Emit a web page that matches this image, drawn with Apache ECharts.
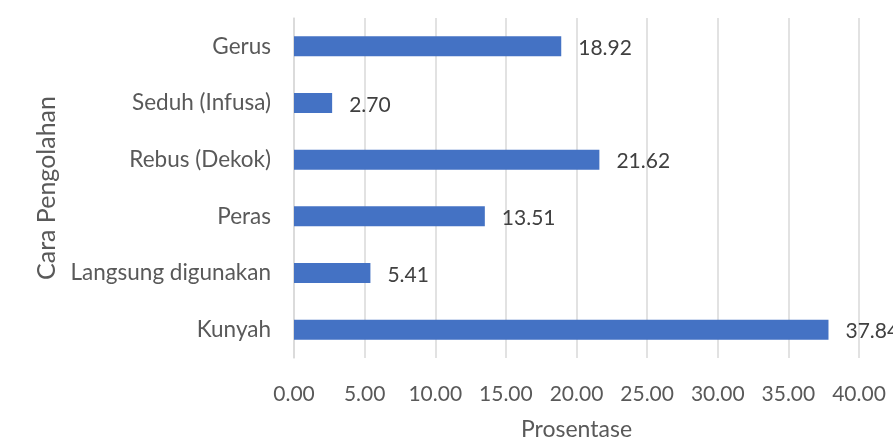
<!DOCTYPE html>
<html>
<head>
<meta charset="utf-8">
<script src="https://cdn.jsdelivr.net/npm/echarts@6/dist/echarts.min.js"></script>
<style>
  html, body { margin: 0; padding: 0; background: #ffffff; }
  #chart { width: 893px; height: 446px; }
</style>
</head>
<body>
<div id="chart"></div>
<script>
// Processing methods (bottom to top on the category axis)
const categories = ['Kunyah', 'Langsung digunakan', 'Peras', 'Rebus (Dekok)', 'Seduh (Infusa)', 'Gerus'];
// Share of each method, in percent
const values = [37.84, 5.41, 13.51, 21.62, 2.70, 18.92];
const xAxisTitle = 'Prosentase';
const yAxisTitle = 'Cara Pengolahan';

const FONT = 'Lato';
const chart = echarts.init(document.getElementById('chart'), null, { renderer: 'canvas' });

chart.setOption({
  animation: false,
  backgroundColor: '#ffffff',
  textStyle: { fontFamily: FONT },
  grid: { left: 294, right: 34, top: 18, bottom: 82, containLabel: false },
  xAxis: {
    type: 'value',
    min: 0,
    max: 40,
    interval: 5,
    name: xAxisTitle,
    nameLocation: 'middle',
    nameGap: 60,
    nameTextStyle: { fontFamily: FONT, fontSize: 23, color: '#595959' },
    axisLine: { show: false },
    axisTick: { show: false },
    axisLabel: {
      margin: 26,
      fontFamily: FONT,
      fontSize: 21,
      color: '#595959',
      formatter: v => v.toFixed(2)
    },
    splitLine: { show: true, lineStyle: { color: '#d9d9d9', width: 1.5 } }
  },
  yAxis: {
    type: 'category',
    data: categories,
    name: yAxisTitle,
    nameLocation: 'middle',
    nameGap: 234,
    nameRotate: 90,
    nameTextStyle: { fontFamily: FONT, fontSize: 25, color: '#595959' },
    axisLine: { show: true, lineStyle: { color: '#d9d9d9', width: 1.5 } },
    axisTick: { show: false },
    axisLabel: { margin: 23, fontFamily: FONT, fontSize: 22.5, color: '#595959' }
  },
  series: [{
    type: 'bar',
    data: values,
    barWidth: 20,
    itemStyle: { color: '#4472c4' },
    label: {
      show: true,
      position: 'right',
      distance: 17,
      offset: [0, 2],
      fontFamily: FONT,
      fontSize: 21,
      color: '#404040',
      formatter: p => p.value.toFixed(2)
    }
  }]
});
</script>
</body>
</html>
